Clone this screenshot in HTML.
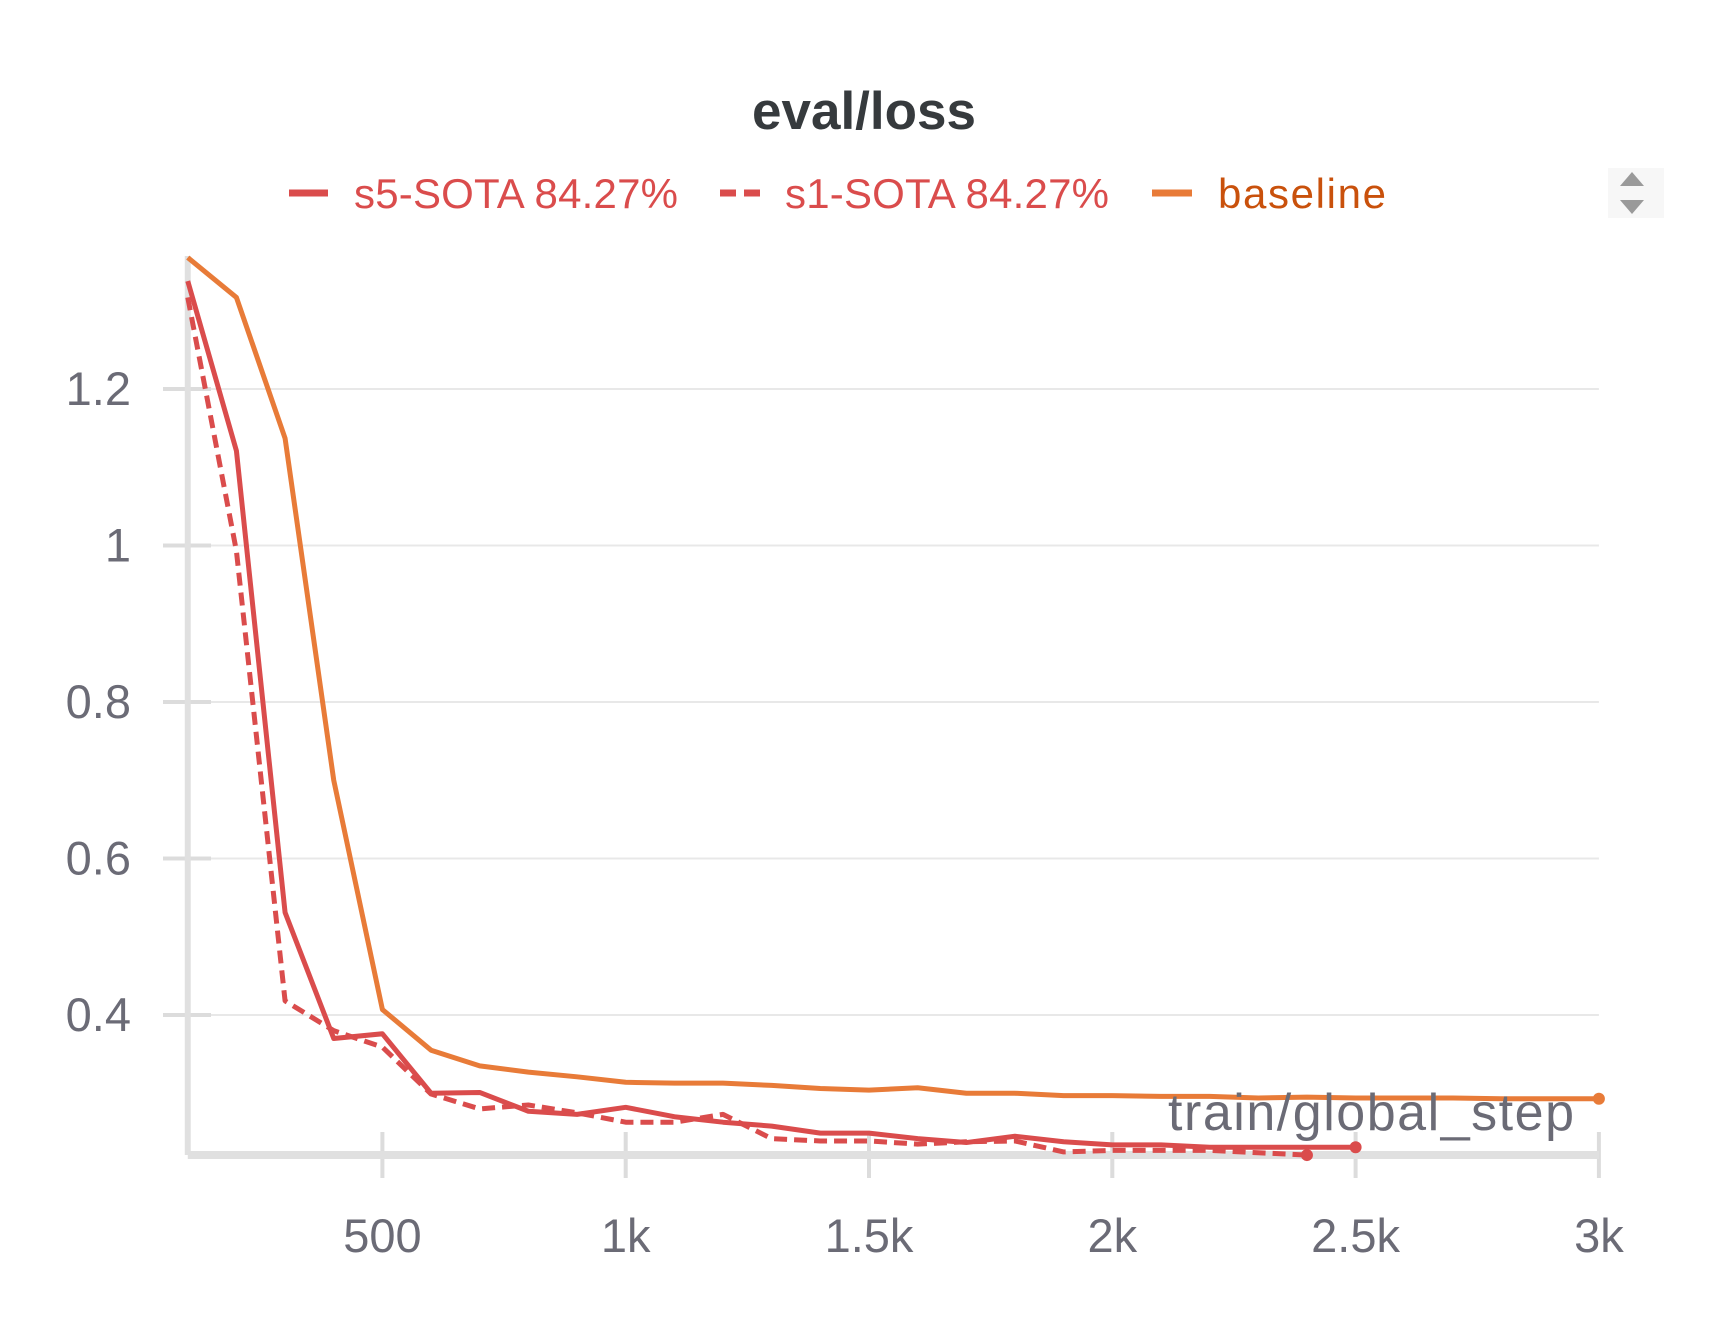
<!DOCTYPE html>
<html><head><meta charset="utf-8"><style>
html,body{margin:0;padding:0;background:#fff;}
svg{display:block;font-family:"Liberation Sans",sans-serif;}
</style></head><body>
<svg id="chart" width="1728" height="1328" viewBox="0 0 1728 1328">
<text x="864" y="129" text-anchor="middle" font-size="53" font-weight="bold" fill="#363a3d">eval/loss</text>
<g>
  <g>
    <line x1="289" y1="193" x2="328" y2="193" stroke="#da4c4c" stroke-width="7"/>
    <text x="354" y="208" font-size="42" fill="#da4c4c" textLength="324">s5-SOTA 84.27%</text>
  </g>
  <g>
    <line x1="720" y1="193" x2="760" y2="193" stroke="#da4c4c" stroke-width="7" stroke-dasharray="16,8"/>
    <text x="785" y="208" font-size="42" fill="#da4c4c" textLength="324">s1-SOTA 84.27%</text>
  </g>
  <g>
    <line x1="1152" y1="193" x2="1192" y2="193" stroke="#e87b38" stroke-width="7"/>
    <text x="1218" y="208" font-size="42" fill="#c9510c" textLength="168">baseline</text>
  </g>
</g>
<g>
  <rect x="1608" y="168" width="56" height="50" fill="#f7f7f7"/>
  <polygon points="1620,186 1644,186 1632,172" fill="#9a9a9a"/>
  <polygon points="1620,200 1644,200 1632,214" fill="#9a9a9a"/>
</g>
<g id="grid"></g>
<g id="axes"></g>
<g id="series"></g>
<text x="1574" y="1130" text-anchor="end" font-size="52" fill="#6b6b76" textLength="406">train/global_step</text>
</svg>
<script>
const steps = [100,200,300,400,500,600,700,800,900,1000,1100,1200,1300,1400,1500,1600,1700,1800,1900,2000,2100,2200,2300,2400,2500,2600,2700,2800,2900,3000];
const baseline = [1.368,1.317,1.137,0.700,0.407,0.355,0.335,0.327,0.321,0.314,0.313,0.313,0.310,0.306,0.304,0.307,0.300,0.300,0.297,0.297,0.296,0.296,0.294,0.295,0.294,0.294,0.294,0.293,0.293,0.293];
const s5 = [1.338,1.121,0.531,0.370,0.376,0.300,0.301,0.277,0.273,0.282,0.270,0.263,0.258,0.249,0.249,0.242,0.237,0.245,0.238,0.234,0.234,0.231,0.231,0.231,0.231];
const s1 = [1.317,0.993,0.418,0.380,0.359,0.299,0.280,0.285,0.275,0.263,0.263,0.273,0.242,0.239,0.239,0.235,0.238,0.239,0.225,0.227,0.227,0.227,0.224,0.221];
const yTicks = [0.4,0.6,0.8,1,1.2];
const yTickLabels = ["0.4","0.6","0.8","1","1.2"];
const xTicks = [500,1000,1500,2000,2500,3000];
const xTickLabels = ["500","1k","1.5k","2k","2.5k","3k"];

const NS = "http://www.w3.org/2000/svg";
const X = s => 382.4 + (s - 500) * 0.4866;
const Y = v => 389 + (1.2 - v) * 782.5;
const xL = X(100), xR = X(3000), yB = 1155, yT = 256;
function mk(tag, attrs, parent){const e=document.createElementNS(NS,tag);for(const k in attrs)e.setAttribute(k,attrs[k]);parent.appendChild(e);return e;}
const grid=document.getElementById('grid'), axes=document.getElementById('axes'), series=document.getElementById('series');

yTicks.forEach((v,i)=>{
  const g=mk('line',{x1:xL,x2:xR,y1:Y(v),y2:Y(v),stroke:'#e8e8e8','stroke-width':2},grid);
  
  
  const t=mk('line',{x1:163,x2:211,y1:Y(v),y2:Y(v),stroke:'#dcdcdc','stroke-width':4},axes);
  
  
  const l=mk('text',{x:131,y:Y(v)+16,'text-anchor':'end','font-size':47,fill:'#6b6b76'},axes);
  l.textContent=yTickLabels[i];
  
  
});
xTicks.forEach((s,i)=>{
  const t=mk('line',{x1:X(s),x2:X(s),y1:1132,y2:1178,stroke:'#dcdcdc','stroke-width':4},axes);
  
  
  const l=mk('text',{x:X(s),y:1252,'text-anchor':'middle','font-size':47,fill:'#6b6b76'},axes);
  l.textContent=xTickLabels[i];
  
  
});
const ya=mk('line',{x1:xL,x2:xL,y1:yT,y2:yB,stroke:'#e0e0e0','stroke-width':6},axes);


const xa=mk('line',{x1:xL,x2:xR,y1:yB,y2:yB,stroke:'#e0e0e0','stroke-width':8},axes);



function draw(vals,color,dash,name){
  const pts=vals.map((v,i)=>X(steps[i])+','+Y(v)).join(' ');
  const p=mk('polyline',{points:pts,fill:'none',stroke:color,'stroke-width':5,'stroke-linejoin':'round'},series);
  if(dash)p.setAttribute('stroke-dasharray',dash);
  
  
  const n=vals.length-1;
  const c=mk('circle',{cx:X(steps[n]),cy:Y(vals[n]),r:6,fill:color},series);
  
  
}
draw(baseline,'#e87b38',null,'baseline');
draw(s1,'#da4c4c','13,7','s1-sota');
draw(s5,'#da4c4c',null,'s5-sota');
</script>
</body></html>
